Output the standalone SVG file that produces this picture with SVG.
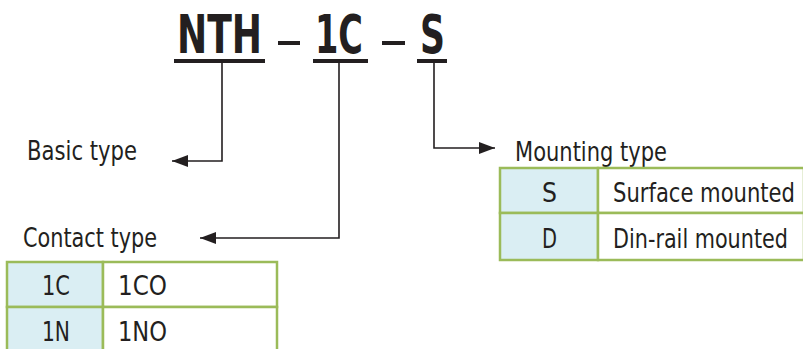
<svg xmlns="http://www.w3.org/2000/svg" width="803" height="349" viewBox="0 0 803 349">
<style>
text{font-family:"Liberation Sans Narrow","DejaVu Sans Condensed","Liberation Sans",sans-serif;fill:#231f20}
.title{font-size:53px;font-weight:bold}
.lbl{font-size:27px}
.cell{font-size:27px}
.key{fill:#daeef3;stroke:#9bbb59;stroke-width:2.5}
.val{fill:#ffffff;stroke:#9bbb59;stroke-width:2.5}
.conn{fill:none;stroke:#231f20;stroke-width:1.6}
.ul{fill:#231f20}
</style>
<defs>
<marker id="ah" viewBox="0 0 16 12" refX="16" refY="6" markerWidth="16" markerHeight="12" markerUnits="userSpaceOnUse" orient="auto">
<path d="M0,0 L16,6 L0,12 Z" fill="#231f20"/>
</marker>
</defs>
<g id="code">
<text class="title" x="177" y="53" textLength="85" lengthAdjust="spacingAndGlyphs">NTH</text>
<rect class="ul" x="174" y="59" width="91" height="4"/>
<rect class="ul" x="278" y="41" width="22" height="4"/>
<text class="title" x="315" y="53" textLength="48" lengthAdjust="spacingAndGlyphs">1C</text>
<rect class="ul" x="313" y="59" width="55" height="4"/>
<rect class="ul" x="382" y="41" width="23" height="4"/>
<text class="title" x="420" y="53" textLength="25" lengthAdjust="spacingAndGlyphs">S</text>
<rect class="ul" x="417" y="59" width="30" height="4"/>
</g>
<g id="connectors">
<path class="conn" d="M222,63 V161 H172" marker-end="url(#ah)"/>
<path class="conn" d="M339,63 V238 H200" marker-end="url(#ah)"/>
<path class="conn" d="M434,63 V148 H495" marker-end="url(#ah)"/>
</g>
<g id="basic-type">
<text class="lbl" x="27" y="160" textLength="110" lengthAdjust="spacingAndGlyphs">Basic type</text>
</g>
<g id="contact-type">
<text class="lbl" x="23" y="247" textLength="134" lengthAdjust="spacingAndGlyphs">Contact type</text>
<rect class="key" x="7" y="262" width="96" height="45"/>
<rect class="val" x="103" y="262" width="174" height="45"/>
<rect class="key" x="7" y="307" width="96" height="45"/>
<rect class="val" x="103" y="307" width="174" height="45"/>
<text class="cell" x="42" y="295" textLength="28" lengthAdjust="spacingAndGlyphs">1C</text>
<text class="cell" x="118" y="295" textLength="49" lengthAdjust="spacingAndGlyphs">1CO</text>
<text class="cell" x="42" y="341" textLength="28" lengthAdjust="spacingAndGlyphs">1N</text>
<text class="cell" x="118" y="341" textLength="49" lengthAdjust="spacingAndGlyphs">1NO</text>
</g>
<g id="mounting-type">
<text class="lbl" x="515" y="161" textLength="152" lengthAdjust="spacingAndGlyphs">Mounting type</text>
<rect class="key" x="500" y="168" width="98" height="45"/>
<rect class="val" x="598" y="168" width="206" height="45"/>
<rect class="key" x="500" y="213" width="98" height="47"/>
<rect class="val" x="598" y="213" width="206" height="47"/>
<text class="cell" x="542" y="202" textLength="15" lengthAdjust="spacingAndGlyphs">S</text>
<text class="cell" x="613" y="202" textLength="182" lengthAdjust="spacingAndGlyphs">Surface mounted</text>
<text class="cell" x="542" y="248" textLength="15" lengthAdjust="spacingAndGlyphs">D</text>
<text class="cell" x="613" y="248" textLength="175" lengthAdjust="spacingAndGlyphs">Din-rail mounted</text>
</g>
</svg>
